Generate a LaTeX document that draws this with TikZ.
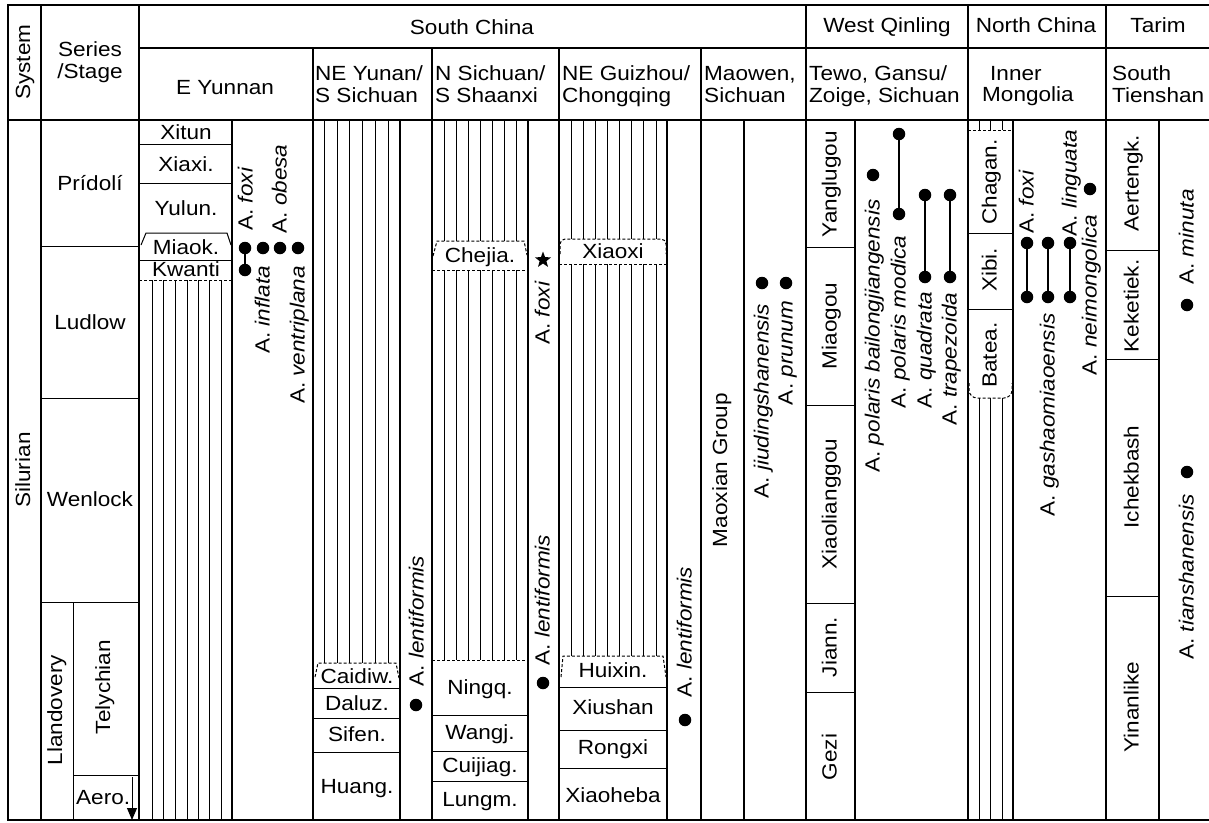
\documentclass[tikz,border=0pt]{standalone}
\usepackage{fontspec}
\setmainfont{Liberation Sans}[FakeStretch=1.1]
\usetikzlibrary{arrows.meta,shapes.geometric}
\newcommand{\fs}{\fontsize{20.5}{21.7}\selectfont}
\begin{document}
\begin{tikzpicture}[x=1pt,y=-1pt,
  frame/.style={line width=2pt},
  col/.style={line width=1.2pt},
  thinln/.style={line width=1pt},
  hatch/.style={line width=0.7pt},
  dashln/.style={line width=1pt, dash pattern=on 3pt off 2pt},
  lbl/.style={inner sep=0pt, font=\fs, text height=15pt, text depth=3pt},
  hdr/.style={inner sep=0pt, font=\fs, align=left},
  rot/.style={inner sep=0pt, font=\fs, rotate=90, text height=15pt, text depth=4pt},
  dotn/.style={circle, fill, inner sep=0pt, minimum size=12.5pt},
  conn/.style={line width=1.3pt},
  starn/.style={star, star points=5, star point ratio=2.4, fill, inner sep=0pt, minimum size=17pt}
]
\useasboundingbox (0,0) rectangle (1209,822);

% ---------- grid ----------
\draw[frame] (1209,5) -- (8,5) -- (8,820) -- (1209,820);
\draw[frame] (8,120) -- (1209,120);
\draw[col] (139,48) -- (1209,48);
\foreach \x in {41,139,806,968,1106} \draw[col] (\x,5) -- (\x,820);
\foreach \x in {313,432,559,701} \draw[col] (\x,48) -- (\x,820);
\foreach \x in {232,400,528,667,744,855,1013,1159} \draw[col] (\x,120) -- (\x,820);

% ---------- headers ----------
\node[lbl, rotate=90] (hsys) at (24,62) {System};
\node[hdr, align=center] (hser) at (90,62) {Series\\/Stage};
\node[lbl] (hsc) at (472,28) {South China};
\node[lbl] (hwq) at (887,26) {West Qinling};
\node[lbl] (hnc) at (1036,26) {North China};
\node[lbl] (hta) at (1158,26) {Tarim};
\node[lbl] (hey) at (225,88) {E Yunnan};
\node[hdr, anchor=west] (hney) at (315,84.5) {NE Yunan/\\S Sichuan};
\node[hdr, anchor=west] (hns) at (435,84.5) {N Sichuan/\\S Shaanxi};
\node[hdr, anchor=west] (hng) at (562,86) {NE Guizhou/\\Chongqing};
\node[hdr, anchor=west] (hmw) at (704,84.5) {Maowen,\\Sichuan};
\node[hdr, anchor=west] (htw) at (809,86) {Tewo, Gansu/\\Zoige, Sichuan};
\node[hdr, anchor=west] (him) at (982,86) {\hspace{8pt}Inner\\Mongolia};
\node[hdr, anchor=west] (hst) at (1112,84.5) {South\\Tienshan};

% ---------- system / series ----------
\node[lbl, rotate=90] (sil) at (24,470) {Silurian};
\draw[thinln] (41,246) -- (139,246);
\draw[thinln] (41,398) -- (139,398);
\draw[thinln] (41,602) -- (139,602);
\draw[thinln] (73,602) -- (73,820);
\draw[thinln] (73,775) -- (139,775);
\node[lbl] (pri) at (90,184) {Pr\'{i}dol\'{i}};
\node[lbl] (lud) at (90,323) {Ludlow};
\node[lbl] (wen) at (90,500) {Wenlock};
\node[lbl, rotate=90] (lla) at (56,710) {Llandovery};
\node[lbl, rotate=90] (tel) at (104,687) {Telychian};
\node[lbl, anchor=west] (aer) at (76,798) {Aero.};
\coordinate (aeroA) at (132,777);
\coordinate (aeroB) at (132,820);
\draw[thinln, -{Triangle[length=12pt,width=10pt]}] (aeroA) -- (aeroB);

% ---------- E Yunnan ----------
\draw[thinln] (139,144) -- (232,144);
\draw[thinln] (139,183) -- (232,183);
\draw[thinln] (141,245) -- (146,233) -- (227,233) -- (231,245);
\draw[thinln] (139,260) -- (232,260);
\draw[dashln] (139,280) -- (232,280);
\foreach \x in {152,163,175,187,198,209,221} \draw[hatch] (\x,280) -- (\x,820);
\node[lbl] (xit) at (186,133) {Xitun};
\node[lbl] (xia) at (186,165) {Xiaxi.};
\node[lbl] (yul) at (186,209) {Yulun.};
\node[lbl] (mia) at (186,248) {Miaok.};
\node[lbl] (kwa) at (186,270) {Kwanti};
\node[dotn] (e1) at (245,248) {};
\node[dotn] (e1b) at (245,270) {};
\draw[conn] (e1) -- (e1b);
\node[dotn] (e2) at (263,248) {};
\node[dotn] (e3) at (280,248) {};
\node[dotn] (e4) at (298,248) {};
\node[rot] (efox) at (247,199) {A. \textit{foxi}};
\node[rot] (eobe) at (281,189) {A. \textit{obesa}};
\node[rot] (einf) at (264,310) {A. \textit{inflata}};
\node[rot] (even) at (299,335) {A. \textit{ventriplana}};

% ---------- NE Yunnan / S Sichuan ----------
\foreach \x in {324,337,349,362,375,388} \draw[hatch] (\x,120) -- (\x,663);
\draw[dashln] (315,677) -- (318,663) -- (396,663) -- (399,678);
\draw[thinln] (313,688) -- (400,688);
\draw[thinln] (313,718) -- (400,718);
\draw[thinln] (313,752) -- (400,752);
\node[lbl] (cai) at (357,677) {Caidiw.};
\node[lbl] (dal) at (357,704) {Daluz.};
\node[lbl] (sif) at (357,735) {Sifen.};
\node[lbl] (hua) at (357,787) {Huang.};
\node[rot] (nylen) at (418,621) {A. \textit{lentiformis}};
\node[dotn] (ny1) at (416,705) {};

% ---------- N Sichuan / S Shaanxi ----------
\foreach \x in {444,456,468,480,492,504,516} {
  \draw[hatch] (\x,120) -- (\x,241);
  \draw[hatch] (\x,270) -- (\x,660);
}
\draw[dashln] (433,256) -- (437,241) -- (524,241) -- (527,255);
\draw[dashln] (432,270) -- (528,270);
\draw[dashln] (432,660) -- (528,660);
\draw[thinln] (432,715) -- (528,715);
\draw[thinln] (432,751) -- (528,751);
\draw[thinln] (432,781) -- (528,781);
\node[lbl] (che) at (480,256) {Chejia.};
\node[lbl] (nin) at (480,688) {Ningq.};
\node[lbl] (wan) at (480,733) {Wangj.};
\node[lbl] (cui) at (480,766) {Cuijiag.};
\node[lbl] (lun) at (480,800) {Lungm.};
\node[starn] (nsstar) at (543,260) {};
\node[rot] (nsfox) at (544,313) {A. \textit{foxi}};
\node[rot] (nslen) at (544,600) {A. \textit{lentiformis}};
\node[dotn] (ns1) at (543,683) {};

% ---------- NE Guizhou / Chongqing ----------
\foreach \x in {571,583,595,607,619,631,643,656} {
  \draw[hatch] (\x,120) -- (\x,239);
  \draw[hatch] (\x,264) -- (\x,656);
}
\draw[dashln, rounded corners=5pt] (560,254) -- (560,239) -- (666,239) -- (666,254);
\draw[dashln] (559,264) -- (667,264);
\draw[dashln] (561,677) -- (563,656) -- (663,656) -- (666,677);
\draw[thinln] (559,687) -- (667,687);
\draw[thinln] (559,730) -- (667,730);
\draw[thinln] (559,768) -- (667,768);
\node[lbl] (xao) at (613,252) {Xiaoxi};
\node[lbl] (hui) at (613,671) {Huixin.};
\node[lbl] (xiu) at (613,708) {Xiushan};
\node[lbl] (ron) at (613,748) {Rongxi};
\node[lbl] (xhb) at (613,796) {Xiaoheba};
\node[rot] (nglen) at (686,632) {A. \textit{lentiformis}};
\node[dotn] (ng1) at (685,720) {};

% ---------- Maowen ----------
\node[lbl, rotate=90] (mxg) at (721,470) {Maoxian Group};
\node[dotn] (mw1) at (762,283) {};
\node[dotn] (mw2) at (786,283) {};
\node[rot] (mwj) at (763,401) {A. \textit{jiudingshanensis}};
\node[rot] (mwp) at (787,353) {A. \textit{prunum}};

% ---------- West Qinling ----------
\draw[thinln] (806,247) -- (855,247);
\draw[thinln] (806,405) -- (855,405);
\draw[thinln] (806,603) -- (855,603);
\draw[thinln] (806,692) -- (855,692);
\node[rot] (yan) at (831,184) {Yanglugou};
\node[rot] (mig) at (831,326) {Miaogou};
\node[rot] (xlg) at (831,504) {Xiaolianggou};
\node[rot] (jia) at (831,647) {Jiann.};
\node[rot] (gez) at (831,757) {Gezi};
\node[dotn] (wq1) at (873,175) {};
\node[rot] (wqbai) at (874,336) {A. \textit{polaris bailongjiangensis}};
\node[dotn] (wq2a) at (899,134) {};
\node[dotn] (wq2b) at (899,214) {};
\draw[conn] (wq2a) -- (wq2b);
\node[rot] (wqmod) at (900,322) {A. \textit{polaris modica}};
\node[dotn] (wq3a) at (925,195) {};
\node[dotn] (wq3b) at (925,277) {};
\draw[conn] (wq3a) -- (wq3b);
\node[rot] (wqqua) at (926,350) {A. \textit{quadrata}};
\node[dotn] (wq4a) at (950,195) {};
\node[dotn] (wq4b) at (950,277) {};
\draw[conn] (wq4a) -- (wq4b);
\node[rot] (wqtra) at (951,359) {A. \textit{trapezoida}};

% ---------- North China ----------
\foreach \x in {979,990,1002} {
  \draw[hatch] (\x,120) -- (\x,130);
  \draw[hatch] (\x,398) -- (\x,820);
}
\draw[dashln] (968,130) -- (1013,130);
\draw[thinln] (968,233) -- (1013,233);
\draw[thinln] (968,309) -- (1013,309);
\draw[dashln, rounded corners=8pt] (969,383) -- (969,398) -- (1012,398) -- (1012,383);
\node[rot] (cha) at (991,182) {Chagan.};
\node[rot] (xib) at (991,270) {Xibi.};
\node[rot] (bat) at (991,355) {Batea.};
\node[dotn] (nc1a) at (1027,243) {};
\node[dotn] (nc1b) at (1027,297) {};
\draw[conn] (nc1a) -- (nc1b);
\node[dotn] (nc2a) at (1048,243) {};
\node[dotn] (nc2b) at (1048,297) {};
\draw[conn] (nc2a) -- (nc2b);
\node[dotn] (nc3a) at (1070,243) {};
\node[dotn] (nc3b) at (1070,297) {};
\draw[conn] (nc3a) -- (nc3b);
\node[dotn] (nc4) at (1090,189) {};
\node[rot] (ncfox) at (1028,202) {A. \textit{foxi}};
\node[rot] (ncgas) at (1049,415) {A. \textit{gashaomiaoensis}};
\node[rot] (nclin) at (1071,183) {A. \textit{linguata}};
\node[rot] (ncnei) at (1091,295) {A. \textit{neimongolica}};

% ---------- Tarim ----------
\draw[thinln] (1106,250) -- (1159,250);
\draw[thinln] (1106,359) -- (1159,359);
\draw[thinln] (1106,596) -- (1159,596);
\node[rot] (aer2) at (1133,183) {Aertengk.};
\node[rot] (kek) at (1133,306) {Keketiek.};
\node[rot] (ich) at (1133,477) {Ichekbash};
\node[rot] (yin) at (1133,707) {Yinanlike};
\node[rot] (tamin) at (1188,237) {A. \textit{minuta}};
\node[dotn] (ta1) at (1187,305) {};
\node[dotn] (ta2) at (1187,472) {};
\node[rot] (tatia) at (1188,577) {A. \textit{tianshanensis}};
\end{tikzpicture}
\end{document}
